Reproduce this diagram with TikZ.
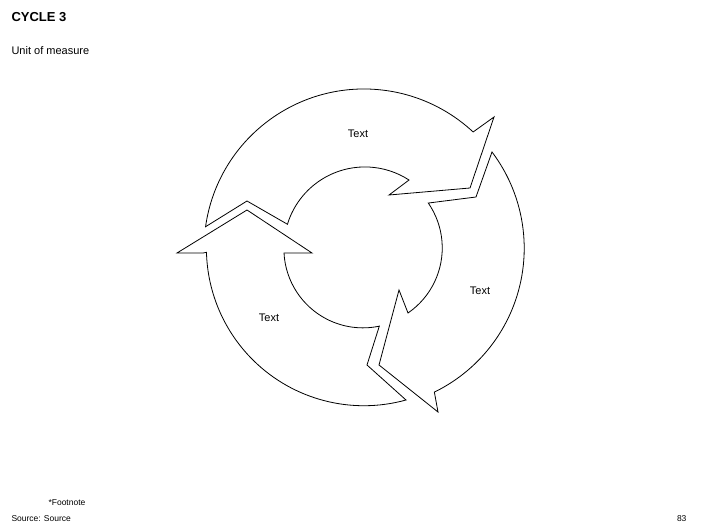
\documentclass[tikz,border=0pt]{standalone}
\usepackage{fontspec}
\setmainfont{Liberation Sans}
\begin{document}
\begin{tikzpicture}[x=1pt,y=1pt,
  seg/.style={draw=black,fill=white,line width=0.8pt,line join=miter},
  lbl/.style={font=\fontsize{11}{13}\selectfont}]
\useasboundingbox (0,0) rectangle (706,-529);
\coordinate (c) at (364,-249);
% top arrow
\draw[seg] (c) ++(172:160) arc[start angle=172,end angle=47,radius=160]
  -- (494,-117) -- (470,-188) -- (389,-195) -- (409,-180)
  arc[start angle=57,end angle=163,radius=81]
  -- (247,-201) -- cycle;
% left arrow
\draw[seg] (203,-253) -- (177,-253) -- (247,-210) -- (312,-253) -- (284,-253)
  arc[start angle=183,end angle=282,radius=79]
  -- (367,-365) -- (406,-400)
  arc[start angle=285.5,end angle=181.5,radius=157.5] -- cycle;
% right arrow
\draw[seg] (492,-152) arc[start angle=37,end angle=-64,radius=160]
  -- (438,-412) -- (379,-365) -- (399,-290) -- (408,-313)
  arc[start angle=-55.5,end angle=34.6,radius=79]
  -- (476,-197) -- cycle;
\node[lbl] (t1) at (358,-134) {Text};
\node[lbl] (t2) at (480,-291) {Text};
\node[lbl] (t3) at (269,-318) {Text};
\node[anchor=west,font=\fontsize{13}{15}\selectfont\bfseries] (title) at (8,-17) {CYCLE 3};
\node[anchor=west,font=\fontsize{11}{13}\selectfont] (sub) at (8,-51) {Unit of measure};
\node[anchor=west,font=\fontsize{8.5}{10}\selectfont] (fn) at (45,-503) {*Footnote};
\node[anchor=west,font=\fontsize{8.5}{10}\selectfont] (src) at (8,-519) {Source: Source};
\node[anchor=east,font=\fontsize{8.5}{10}\selectfont] (pg) at (690,-519) {83};
\end{tikzpicture}
\end{document}
